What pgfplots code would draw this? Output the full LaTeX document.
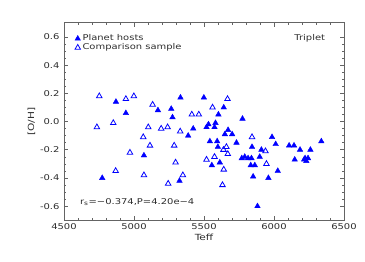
\documentclass[border=0pt]{standalone}
\usepackage{pgfplots}
\pgfplotsset{compat=1.18}
\usepackage{fontspec}
\setmainfont{DejaVu Sans}[FakeStretch=1.25]
\definecolor{framegray}{RGB}{100,100,100}
\definecolor{txt}{RGB}{45,45,45}
\begin{document}
\begin{tikzpicture}[x=1bp,y=1bp]
\path[use as bounding box] (-64,-41) rectangle (301,220.3);
\begin{axis}[
  at={(0,0)}, anchor=south west,
  scale only axis, width=280bp, height=197.5bp,
  xmin=4500, xmax=6500, ymin=-0.7, ymax=0.7,
  xtick={4500,5000,...,6500},
  ytick={-0.6,-0.4,...,0.61},
  minor x tick num=4, minor y tick num=3,
  tick align=inside, major tick length=4bp, minor tick length=2.2bp,
  axis line style={framegray, line width=0.8pt},
  every tick/.style={framegray, line width=0.6pt},
  tick label style={font=\fontsize{8}{9}\selectfont, text=txt},
  /pgf/number format/assume math mode=true,
  yticklabel style={/pgf/number format/fixed, /pgf/number format/fixed zerofill, /pgf/number format/precision=1, xshift=-1bp},
  xticklabel style={/pgf/number format/set thousands separator={}},
  scaled ticks=false,
  xlabel={Teff}, ylabel={[O/H]},
  label style={font=\fontsize{8.5}{10}\selectfont, text=txt},
  xlabel style={yshift=3bp},
  ylabel style={yshift=-2bp},
  legend style={draw=none, fill=none, at={(0.035,0.955)}, anchor=north west,
    font=\fontsize{8}{9}\selectfont, text=txt, row sep=-2.5pt, inner sep=1pt},
  legend cell align=left,
  legend image code/.code={\draw[#1] plot coordinates {(0.12cm,0cm)};},
]
\addplot[only marks, mark=triangle*, mark size=3.2pt, blue, mark options={fill=blue, draw=blue}] coordinates {
(4773,-0.40) (4871,0.14) (4942,0.06) (5071,-0.24) (5171,0.08) (5266,0.09)
(5275,0.03) (5332,0.17) (5325,-0.42) (5387,-0.10) (5423,-0.05) (5499,0.17)
(5518,-0.04) (5532,-0.02) (5542,-0.14) (5556,-0.31) (5575,-0.04) (5582,-0.01)
(5594,-0.14) (5599,-0.18) (5603,0.05) (5613,-0.29) (5641,0.10) (5649,-0.09)
(5672,-0.06) (5701,-0.09) (5732,-0.15) (5775,0.02) (5770,-0.26) (5791,-0.25)
(5815,-0.26) (5839,-0.26) (5834,-0.31) (5843,-0.18) (5851,-0.39) (5863,-0.31)
(5882,-0.60) (5898,-0.25) (5910,-0.20) (5960,-0.40) (5986,-0.11) (6012,-0.16)
(6027,-0.35) (6108,-0.17) (6143,-0.17) (6148,-0.27) (6186,-0.20) (6215,-0.27)
(6231,-0.28) (6243,-0.26) (6222,-0.26) (6260,-0.20) (6338,-0.14)
};
\addlegendentry{Planet hosts}
\addplot[only marks, mark=triangle, mark size=3.2pt, blue, mark options={draw=blue, line width=0.8pt}] coordinates {
(4735,-0.04) (4752,0.18) (4852,-0.01) (4869,-0.35) (4942,0.16) (4999,0.18)
(4971,-0.22) (5066,-0.11) (5071,-0.38) (5102,-0.04) (5114,-0.17) (5133,0.12)
(5194,-0.05) (5240,-0.04) (5244,-0.44) (5287,-0.17) (5297,-0.29) (5330,-0.07)
(5349,-0.38) (5413,0.05) (5463,0.05) (5518,-0.27) (5561,0.10) (5575,-0.25)
(5632,-0.45) (5639,-0.20) (5641,-0.34) (5660,-0.18) (5668,0.16) (5670,-0.23)
(5843,-0.11) (5939,-0.21) (5946,-0.30)
};
\addlegendentry{Comparison sample}
\node[anchor=east, font=\fontsize{8}{9}\selectfont, text=txt] at (rel axis cs:0.945,0.92) {Triplet};
\node[anchor=west, font=\fontsize{8}{9}\selectfont, text=txt] at (rel axis cs:0.045,0.093) {r\textsubscript{s}=−0.374,P=4.20e−4};
\end{axis}
\end{tikzpicture}
\end{document}
